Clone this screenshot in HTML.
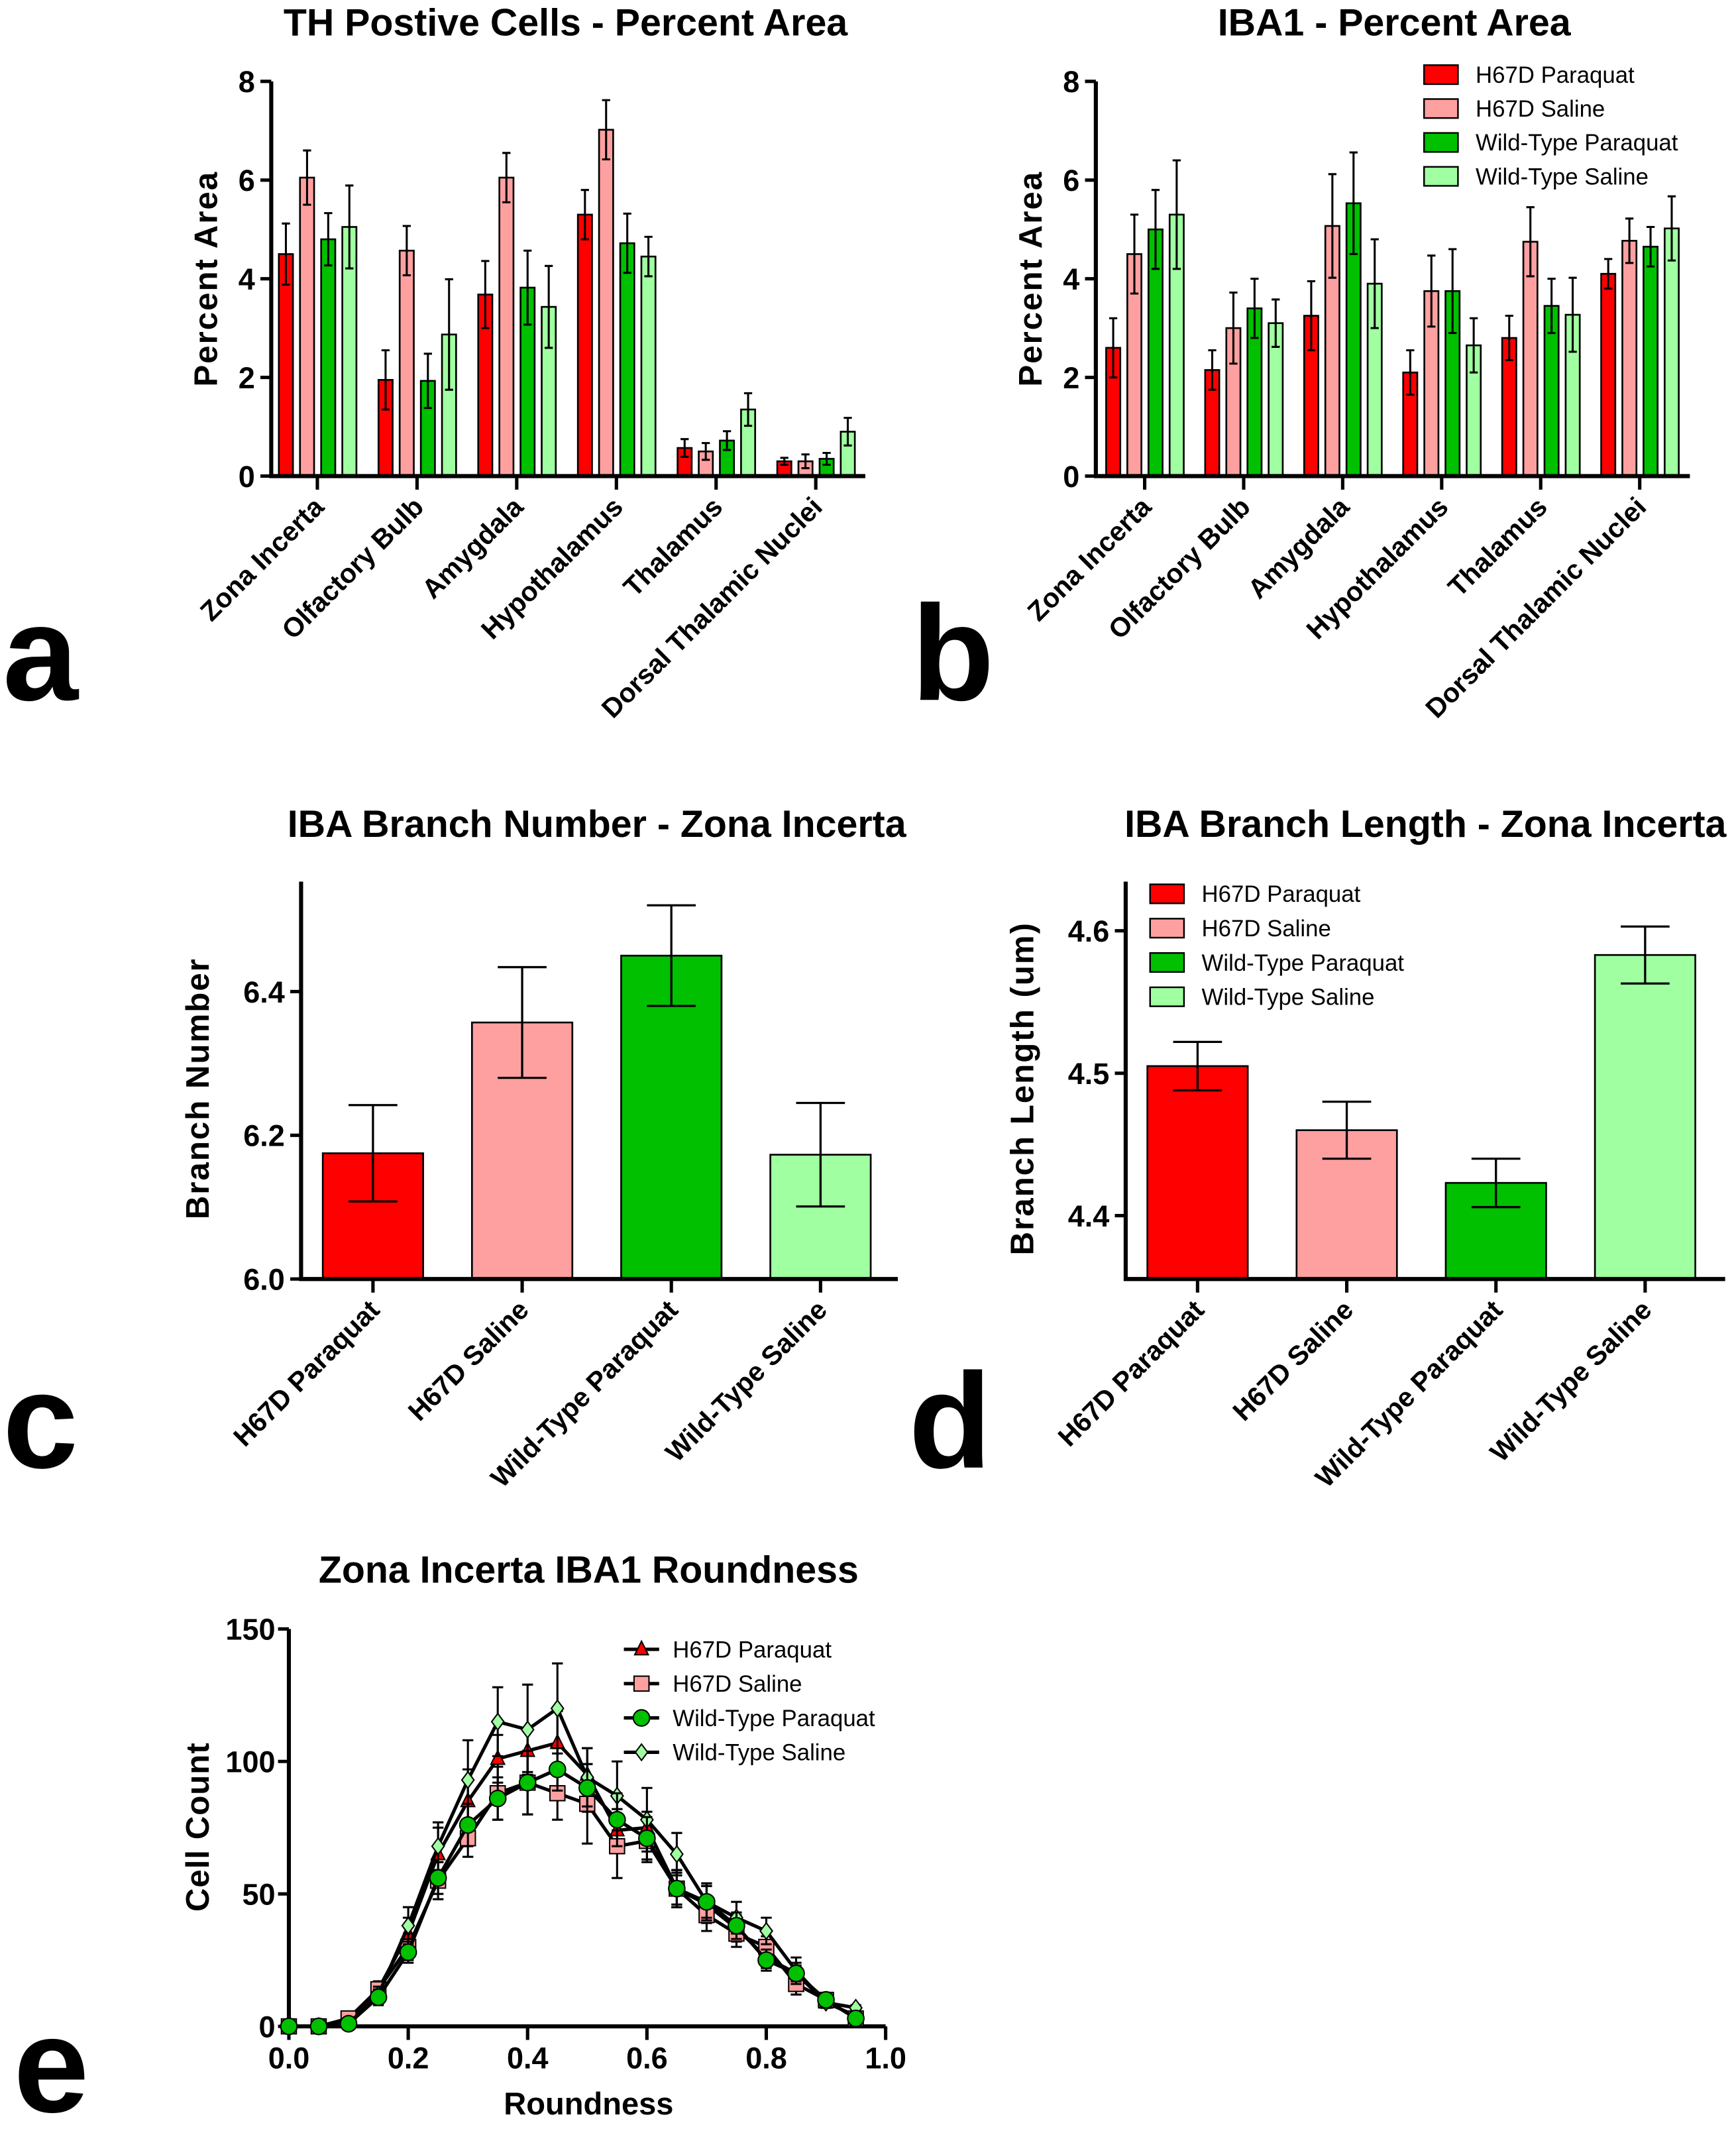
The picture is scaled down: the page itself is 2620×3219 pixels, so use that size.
<!DOCTYPE html>
<html><head><meta charset="utf-8"><style>
html,body{margin:0;padding:0;background:#fff}
svg{display:block}
text{font-family:"Liberation Sans Narrow","Liberation Sans",sans-serif;fill:#000}
.t{font-family:"Liberation Sans",sans-serif;font-weight:bold}
</style></head><body>
<svg id="fig" xmlns="http://www.w3.org/2000/svg" width="2620" height="3219" viewBox="0 0 1280 1572.6">
<g class="t" font-size="100">
<text class="t" x="2" y="516">a</text>
<text class="t" x="672" y="516">b</text>
<text class="t" x="2" y="1082">c</text>
<text class="t" x="670" y="1082">d</text>
<text class="t" x="10" y="1557">e</text>
</g>
</svg>
<script>
const groups=["H67D Paraquat","H67D Saline","Wild-Type Paraquat","Wild-Type Saline"];
const colors=["#ff0000","#ffa0a0","#00c000","#a0ffa0"];
const regions=["Zona Incerta","Olfactory Bulb","Amygdala","Hypothalamus","Thalamus","Dorsal Thalamic Nuclei"];
const thMean=[[4.5,6.05,4.8,5.05],[1.95,4.57,1.93,2.87],[3.68,6.05,3.82,3.43],[5.3,7.02,4.72,4.45],[0.57,0.5,0.72,1.35],[0.3,0.3,0.35,0.9]];
const thErr=[[0.62,0.55,0.53,0.84],[0.6,0.5,0.55,1.12],[0.68,0.5,0.75,0.83],[0.5,0.6,0.6,0.4],[0.18,0.17,0.19,0.33],[0.07,0.14,0.12,0.28]];
const ibaMean=[[2.6,4.5,5.0,5.3],[2.15,3.0,3.4,3.1],[3.25,5.07,5.53,3.9],[2.1,3.75,3.75,2.65],[2.8,4.75,3.45,3.27],[4.1,4.77,4.65,5.02]];
const ibaErr=[[0.6,0.8,0.8,1.1],[0.4,0.72,0.6,0.48],[0.7,1.05,1.03,0.9],[0.45,0.72,0.85,0.55],[0.45,0.7,0.55,0.75],[0.3,0.45,0.4,0.65]];
const pctTicks=[0,2,4,6,8];
const bnMean=[6.175,6.357,6.45,6.173];
const bnErr=[0.067,0.077,0.07,0.072];
const bnTicks=["6.0","6.2","6.4"];
const blMean=[4.505,4.46,4.423,4.583];
const blErr=[0.017,0.02,0.017,0.02];
const blTicks=["4.4","4.5","4.6"];
const roundX=[0,0.05,0.1,0.15,0.2,0.25,0.3,0.35,0.4,0.45,0.5,0.55,0.6,0.65,0.7,0.75,0.8,0.85,0.9,0.95];
const rH67DP=[0,0,2,14,35,65,85,101,104,107,95,74,75,52,46,37,26,20,9,4];
const rH67DS=[0,0,3,14,30,55,71,88,92,88,84,68,70,52,42,35,30,16,10,3];
const rWTP=[0,0,1,11,28,56,76,86,92,97,90,78,71,52,47,38,25,20,10,3];
const rWTS=[0,0,1,12,38,68,93,115,112,120,94,87,78,65,47,41,36,21,9,7];
const rErrP=[0,0,1,3,6,10,12,9,8,12,10,8,6,6,7,5,4,4,2,1];
const rErrS=[0,0,1,3,5,7,7,10,12,10,15,12,8,7,6,5,4,4,2,1];
const rErrWP=[0,0,1,3,4,6,8,8,12,8,9,10,8,7,6,5,4,3,2,1];
const rErrWS=[0,0,1,3,7,9,15,13,17,17,11,13,12,8,7,6,5,5,2,1];
const roundXTicks=["0.0","0.2","0.4","0.6","0.8","1.0"];
const roundYTicks=[0,50,100,150];

const NS="http://www.w3.org/2000/svg";
const fig=document.getElementById('fig');
function mk(tag,attrs,parent){const e=document.createElementNS(NS,tag);for(const k in attrs)e.setAttribute(k,attrs[k]);(parent||fig).appendChild(e);return e;}
function txt(s,attrs,parent){const e=mk('text',attrs,parent);e.textContent=s;return e;}

function groupedChart(id,x0,x1,yTop,yBot,ymax,means,errs,cx0,step,title,titleX){
  const g=mk('g',{});
  
  
  const ys=v=>yBot-(v/ymax)*(yBot-yTop);
  const xc=i=>cx0+i*step;
  const t=txt(title,{x:titleX,y:26,'text-anchor':'middle','font-size':28,class:'t'},g);
  
  
  const yl=txt('Percent  Area',{x:0,y:0,'font-size':24,class:'t','text-anchor':'middle','letter-spacing':1,transform:`translate(${x0-40},${(yTop+yBot)/2}) rotate(-90)`},g);
  
  
  means.forEach((grp,i)=>{grp.forEach((v,j)=>{
    const bx=xc(i)+(j-1.5)*15.6-5;
    const r=mk('rect',{x:bx,y:ys(v),width:10.4,height:yBot-ys(v),fill:colors[j],stroke:'#000','stroke-width':1.3},g);
    
    
    const e=errs[i][j],cx=bx+5.2;
    const eb=mk('path',{d:`M${cx},${ys(v-e)}V${ys(v+e)}M${cx-3},${ys(v-e)}H${cx+3}M${cx-3},${ys(v+e)}H${cx+3}`,stroke:'#000','stroke-width':1.5,fill:'none'},g);
    
    
  });
    const tk=mk('line',{x1:xc(i),x2:xc(i),y1:yBot,y2:yBot+10,stroke:'#000','stroke-width':2.5},g);
    
    
    const lb=txt(regions[i],{x:0,y:0,'text-anchor':'end','font-size':20,class:'t',transform:`translate(${xc(i)+6},${yBot+24}) rotate(-45)`},g);
    
    
  });
  pctTicks.forEach(v=>{
    const tk=mk('line',{x1:x0-8,x2:x0,y1:ys(v),y2:ys(v),stroke:'#000','stroke-width':2.5},g);
    
    
    const l=txt(String(v),{x:x0-12,y:ys(v)+8,'text-anchor':'end','font-size':22,'font-weight':'bold'},g);
    
    
  });
  const ax=mk('path',{d:`M${x0},${yTop}V${yBot}H${x1}`,stroke:'#000','stroke-width':3,fill:'none'},g);
  
  
  return g;
}
groupedChart('chart-th-percent-area',200,638,60,351,8,thMean,thErr,234,73.5,'TH Postive Cells - Percent Area',417);
const gb=groupedChart('chart-iba1-percent-area',808,1246,60,351,8,ibaMean,ibaErr,844,73,'IBA1 - Percent Area',1028);

function legendBoxes(parent,x,y,dy){
  groups.forEach((n,i)=>{
    const r=mk('rect',{x:x,y:y+i*dy-7,width:25,height:14,fill:colors[i],stroke:'#000','stroke-width':1.2},parent);
    
    
    const t=txt(n,{x:x+38,y:y+i*dy+6,'font-size':17},parent);
    
    
  });
}
const lgb=mk('g',{});


legendBoxes(lgb,1050,55,25);

function singleChart(id,x0,x1,yTop,yBot,vmin,vmax,means,errs,ticks,title,titleX,ytitle){
  const g=mk('g',{});
  
  
  const ys=v=>yBot-(v-vmin)/(vmax-vmin)*(yBot-yTop);
  const t=txt(title,{x:titleX,y:617,'text-anchor':'middle','font-size':28,class:'t'},g);
  
  
  const yl=txt(ytitle,{x:0,y:0,'font-size':24,class:'t','text-anchor':'middle','letter-spacing':1,transform:`translate(${x0-68},${(yTop+yBot)/2+6}) rotate(-90)`},g);
  
  
  means.forEach((v,i)=>{
    const cx=x0+53+i*110;
    const r=mk('rect',{x:cx-37,y:ys(v),width:74,height:yBot-ys(v),fill:colors[i],stroke:'#000','stroke-width':1.3},g);
    
    
    const e=errs[i];
    const eb=mk('path',{d:`M${cx},${ys(v-e)}V${ys(v+e)}M${cx-18},${ys(v-e)}H${cx+18}M${cx-18},${ys(v+e)}H${cx+18}`,stroke:'#000','stroke-width':1.6,fill:'none'},g);
    
    
    const tk=mk('line',{x1:cx,x2:cx,y1:yBot,y2:yBot+10,stroke:'#000','stroke-width':2.5},g);
    
    
    const lb=txt(groups[i],{x:0,y:0,'text-anchor':'end','font-size':20,class:'t',transform:`translate(${cx+6},${yBot+24}) rotate(-45)`},g);
    
    
  });
  ticks.forEach(s=>{
    const v=parseFloat(s);
    const tk=mk('line',{x1:x0-8,x2:x0,y1:ys(v),y2:ys(v),stroke:'#000','stroke-width':2.5},g);
    
    
    const l=txt(s,{x:x0-12,y:ys(v)+8,'text-anchor':'end','font-size':22,'font-weight':'bold'},g);
    
    
  });
  const ax=mk('path',{d:`M${x0},${yTop}V${yBot}H${x1}`,stroke:'#000','stroke-width':3,fill:'none'},g);
  
  
  return g;
}
singleChart('chart-branch-number',222,662,650,943,6.0,6.553,bnMean,bnErr,bnTicks,'IBA Branch Number - Zona Incerta',440,'Branch  Number');
const gd=singleChart('chart-branch-length',830,1272,650,943,4.3555,4.6345,blMean,blErr,blTicks,'IBA Branch Length - Zona Incerta',1051,'Branch  Length (um)');
legendBoxes(gd,848,659,25.3);

// Panel e
const ge=mk('g',{});


const ex0=213,ex1=653,ey0=1494,ey1=1201;
const sx=v=>ex0+v*(ex1-ex0);
const sy=v=>ey0-v/150*(ey0-ey1);
const et=txt('Zona Incerta IBA1 Roundness',{x:434,y:1167,'text-anchor':'middle','font-size':28,class:'t'},ge);


const eyt=txt('Cell Count',{x:0,y:0,'font-size':24,class:'t','text-anchor':'middle','letter-spacing':0.5,transform:`translate(154,1347) rotate(-90)`},ge);


const ext=txt('Roundness',{x:434,y:1559,'font-size':23,class:'t','text-anchor':'middle'},ge);


roundXTicks.forEach(s=>{const v=parseFloat(s);
  const tk=mk('line',{x1:sx(v),x2:sx(v),y1:ey0,y2:ey0+10,stroke:'#000','stroke-width':2.5},ge);
  
  
  const l=txt(s,{x:sx(v),y:ey0+31,'text-anchor':'middle','font-size':22,'font-weight':'bold'},ge);
  
  
});
roundYTicks.forEach(v=>{
  const tk=mk('line',{x1:ex0-8,x2:ex0,y1:sy(v),y2:sy(v),stroke:'#000','stroke-width':2.5},ge);
  
  
  const l=txt(String(v),{x:ex0-10,y:sy(v)+8,'text-anchor':'end','font-size':22,'font-weight':'bold'},ge);
  
  
});
const eax=mk('path',{d:`M${ex0},${ey1}V${ey0}H${ex1}`,stroke:'#000','stroke-width':3,fill:'none'},ge);


function marker(kind,x,y,col,parent){
  let m;
  if(kind==='tri') m=mk('path',{d:`M${x},${y-6}L${x+5},${y+4}H${x-5}Z`,fill:col,stroke:'#000','stroke-width':1},parent);
  else if(kind==='sq') m=mk('rect',{x:x-5.5,y:y-5.5,width:11,height:11,fill:col,stroke:'#000','stroke-width':1},parent);
  else if(kind==='ci') m=mk('circle',{cx:x,cy:y,r:6,fill:col,stroke:'#000','stroke-width':1},parent);
  else m=mk('path',{d:`M${x},${y-6}L${x+4.5},${y}L${x},${y+6}L${x-4.5},${y}Z`,fill:col,stroke:'#000','stroke-width':1},parent);
  return m;
}
const series=[[rH67DP,rErrP,'tri'],[rH67DS,rErrS,'sq'],[rWTS,rErrWS,'di'],[rWTP,rErrWP,'ci']];
const seriesIdx=[0,1,3,2];
series.forEach(([vals,errs,kind],k)=>{
  const ci=seriesIdx[k];
  const sg=mk('g',{},ge);
  
  
  let d='';
  vals.forEach((v,i)=>{const e=errs[i],x=sx(roundX[i]);
    d+=`M${x},${sy(v-e)}V${sy(v+e)}M${x-4},${sy(v-e)}H${x+4}M${x-4},${sy(v+e)}H${x+4}`;});
  const eb=mk('path',{d:d,stroke:'#000','stroke-width':1.5,fill:'none'},sg);
  
  
  const ln=mk('polyline',{points:vals.map((v,i)=>sx(roundX[i])+','+sy(v)).join(' '),stroke:'#000','stroke-width':2.5,fill:'none'},sg);
  
  
  vals.forEach((v,i)=>{
    const m=marker(kind,sx(roundX[i]),sy(v),colors[ci],sg);
    
    
  });
});
const kinds=['tri','sq','ci','di'];
groups.forEach((n,i)=>{
  const y=1216+i*25.3;
  const l=mk('line',{x1:460,x2:486,y1:y,y2:y,stroke:'#000','stroke-width':2.5},ge);
  
  
  const m=marker(kinds[i],473,y,colors[i],ge);
  
  
  const t=txt(n,{x:496,y:y+6,'font-size':17},ge);
  
  
});
</script>
</body></html>
